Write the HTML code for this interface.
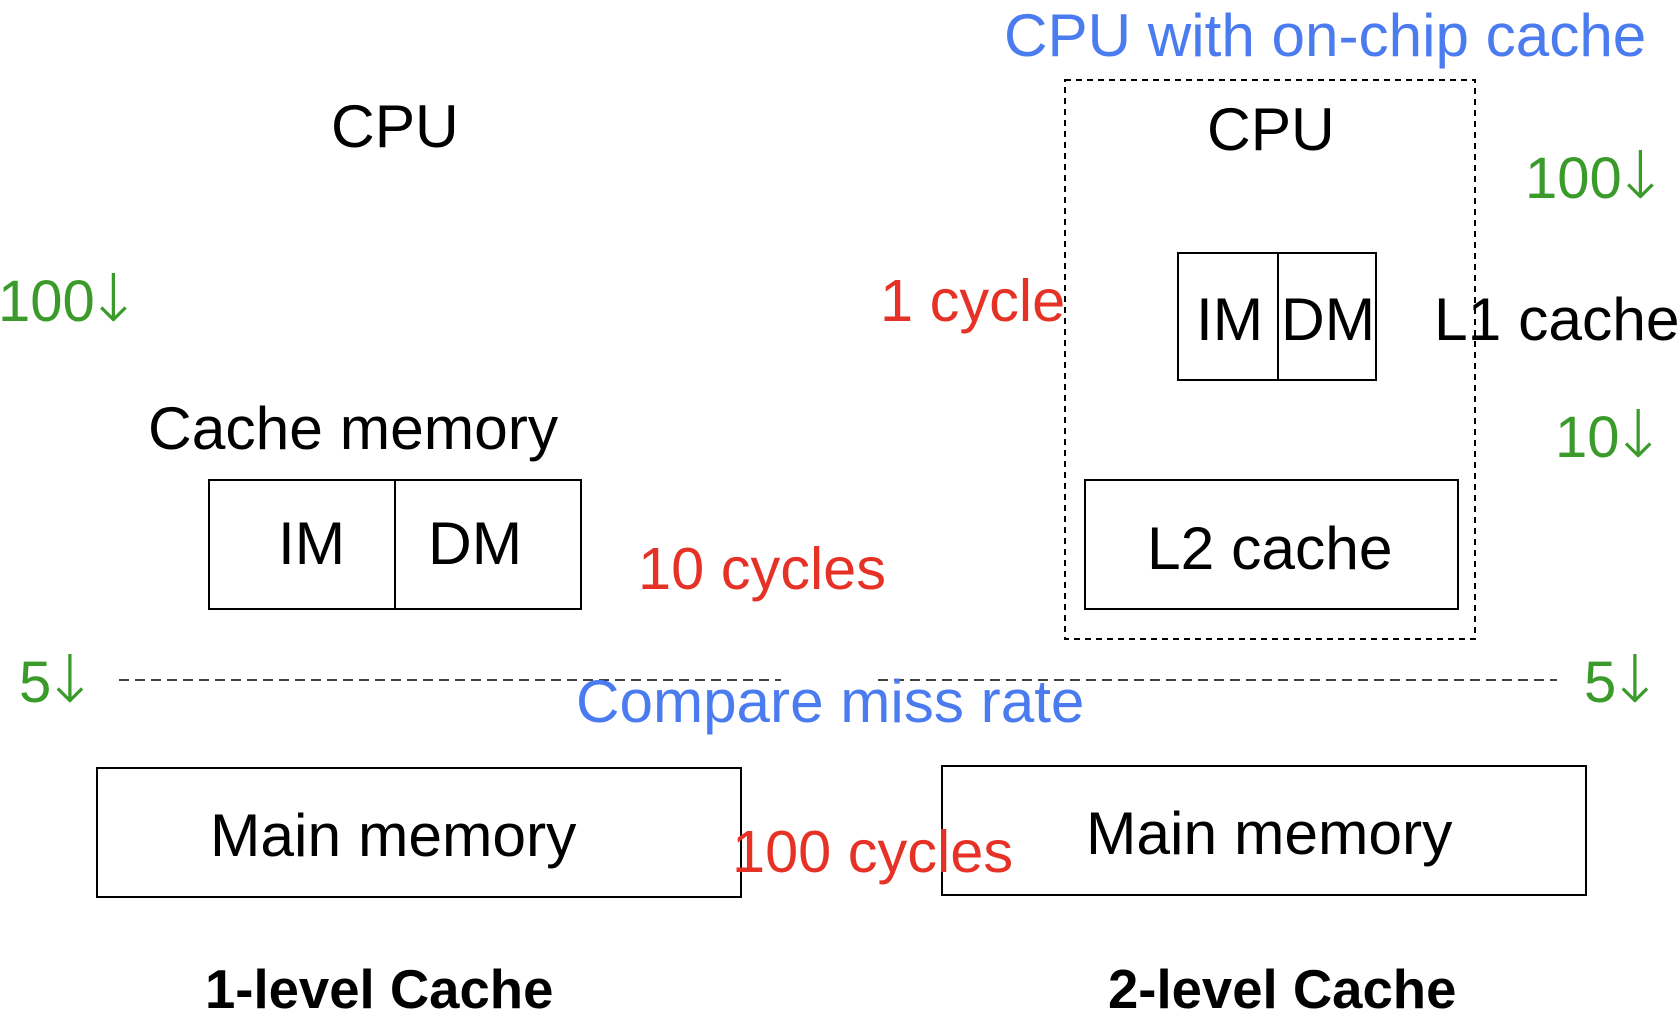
<!DOCTYPE html>
<html><head><meta charset="utf-8"><style>
html,body{margin:0;padding:0;background:#fff;}
svg{display:block;}
text{font-family:"Liberation Sans",Arial,sans-serif;}
.ar{font-family:"DejaVu Sans",sans-serif;font-size:66px;font-weight:200;}
</style></head><body>
<svg width="1678" height="1026" viewBox="0 0 1678 1026" xmlns="http://www.w3.org/2000/svg">
<g fill="none" stroke="#000" stroke-width="2">
<rect x="1065" y="80" width="410" height="559" stroke-dasharray="6,5"/>
<rect x="1178" y="253" width="198" height="127"/>
<line x1="1278" y1="253" x2="1278" y2="380"/>
<rect x="209" y="480" width="372" height="129"/>
<line x1="395" y1="480" x2="395" y2="609"/>
<rect x="1085" y="480" width="373" height="129"/>
<rect x="97" y="768" width="644" height="129"/>
<rect x="942" y="766" width="644" height="129"/>
<line x1="119" y1="680" x2="781" y2="680" stroke-dasharray="10,6" stroke-width="1.6"/>
<line x1="878" y1="680" x2="1557" y2="680" stroke-dasharray="10,6" stroke-width="1.6"/>
</g>
<g font-size="60.5" fill="#000">
<text x="331" y="147">CPU</text>
<text x="1207" y="150">CPU</text>
<text x="1196" y="340">IM</text>
<text x="1281" y="340">DM</text>
<text x="1434" y="340">L1 cache</text>
<text x="148" y="449">Cache memory</text>
<text x="278" y="564">IM</text>
<text x="428" y="564">DM</text>
<text x="1147" y="569">L2 cache</text>
<text x="210" y="856">Main memory</text>
<text x="1086" y="854">Main memory</text>
</g>
<g font-size="60.2" fill="#4a7cf0">
<text x="1004" y="56">CPU with on-chip cache</text>
<text x="576" y="722">Compare miss rate</text>
</g>
<g font-size="59.5" fill="#e63226">
<text x="880" y="321">1 cycle</text>
<text x="638" y="589">10 cycles</text>
<text x="732" y="872">100 cycles</text>
</g>
<g font-size="58" fill="#3a9a2a">
<text x="1525" y="198">100<tspan class="ar" dx="-9">↓</tspan></text>
<text x="-2" y="321">100<tspan class="ar" dx="-9">↓</tspan></text>
<text x="1555" y="457">10<tspan class="ar" dx="-9">↓</tspan></text>
<text x="19" y="702">5<tspan class="ar" dx="-9">↓</tspan></text>
<text x="1584" y="702">5<tspan class="ar" dx="-9">↓</tspan></text>
</g>
<g font-size="54.5" font-weight="bold" fill="#000">
<text x="205" y="1008">1-level Cache</text>
<text x="1108" y="1008">2-level Cache</text>
</g>
</svg>
</body></html>
